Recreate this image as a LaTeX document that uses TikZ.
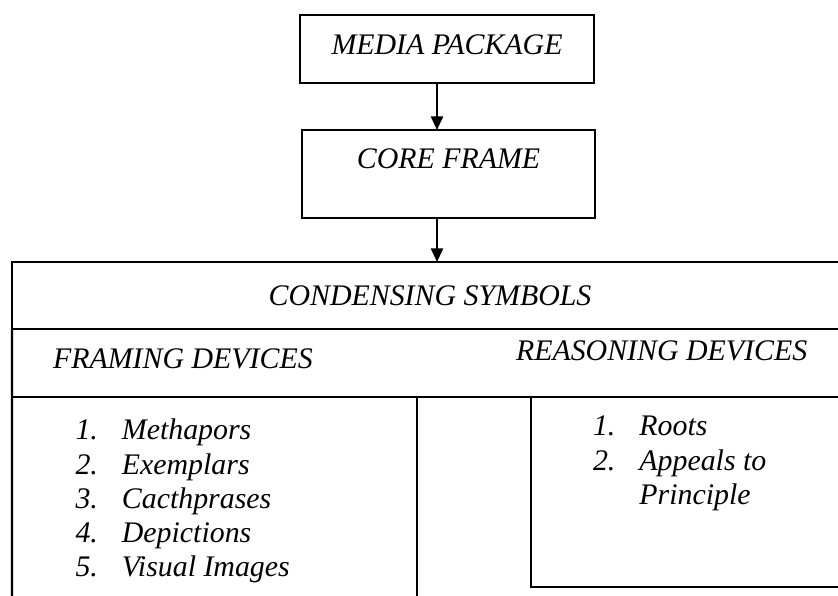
\documentclass[tikz,border=0pt]{standalone}
\usepackage{fontspec}
\setmainfont{Liberation Serif}
\usetikzlibrary{arrows.meta}

\begin{document}
\begin{tikzpicture}[
    font=\fontsize{17}{19.4}\selectfont\itshape,
    line width=1.3pt,
    every node/.style={outer sep=0pt},
    titlebox/.style={draw, inner sep=0pt, anchor=north},
    heading/.style={inner sep=0pt, anchor=base west},
    flow/.style={-{Triangle[length=0.27cm,width=0.24cm]}}
  ]
  \useasboundingbox (0,0) rectangle (16.76,11.92);
  \clip (0,0) rectangle (16.76,11.92);

  \node[titlebox, minimum width=5.88cm, text height=0.8cm, text depth=0.56cm] (media) at (8.94,11.62) {MEDIA PACKAGE};
  \node[titlebox, minimum width=5.86cm, text height=0.78cm, text depth=0.98cm] (core) at (8.97,9.32) {CORE FRAME};
  \node[draw, minimum width=16.72cm, minimum height=1.34cm] (cond) at (8.6,6.01) {CONDENSING SYMBOLS};

  \draw[flow] ([xshift=-0.2cm]media.south) -- ([xshift=-0.2cm]media.south |- core.north);
  \draw[flow] ([xshift=-0.23cm]core.south) -- ([xshift=-0.23cm]core.south |- cond.north);

  \draw (cond.south west) -- (0.24,-0.3);
  \draw (0.24,3.98) -- (17,3.98);
  \draw (8.34,3.98) -- (8.34,-0.3);
  \draw (10.62,3.98) -- (10.62,0.18) -- (17,0.18);

  \node[heading] (framing) at (1.06,4.54) {FRAMING DEVICES};
  \node[heading] (reasoning) at (10.32,4.7) {REASONING DEVICES};

  \node[heading] (framelist) at (1.51,3.12) {\begin{tabular}[t]{@{}r@{\hspace{0.48cm}}l@{}}
    1.&Methapors\\
    2.&Exemplars\\
    3.&Cacthprases\\
    4.&Depictions\\
    5.&Visual Images
  \end{tabular}};
  \node[heading] (reasonlist) at (11.86,3.2) {\begin{tabular}[t]{@{}r@{\hspace{0.48cm}}l@{}}
    1.&Roots\\
    2.&Appeals to\\
      &Principle
  \end{tabular}};
\end{tikzpicture}
\end{document}
